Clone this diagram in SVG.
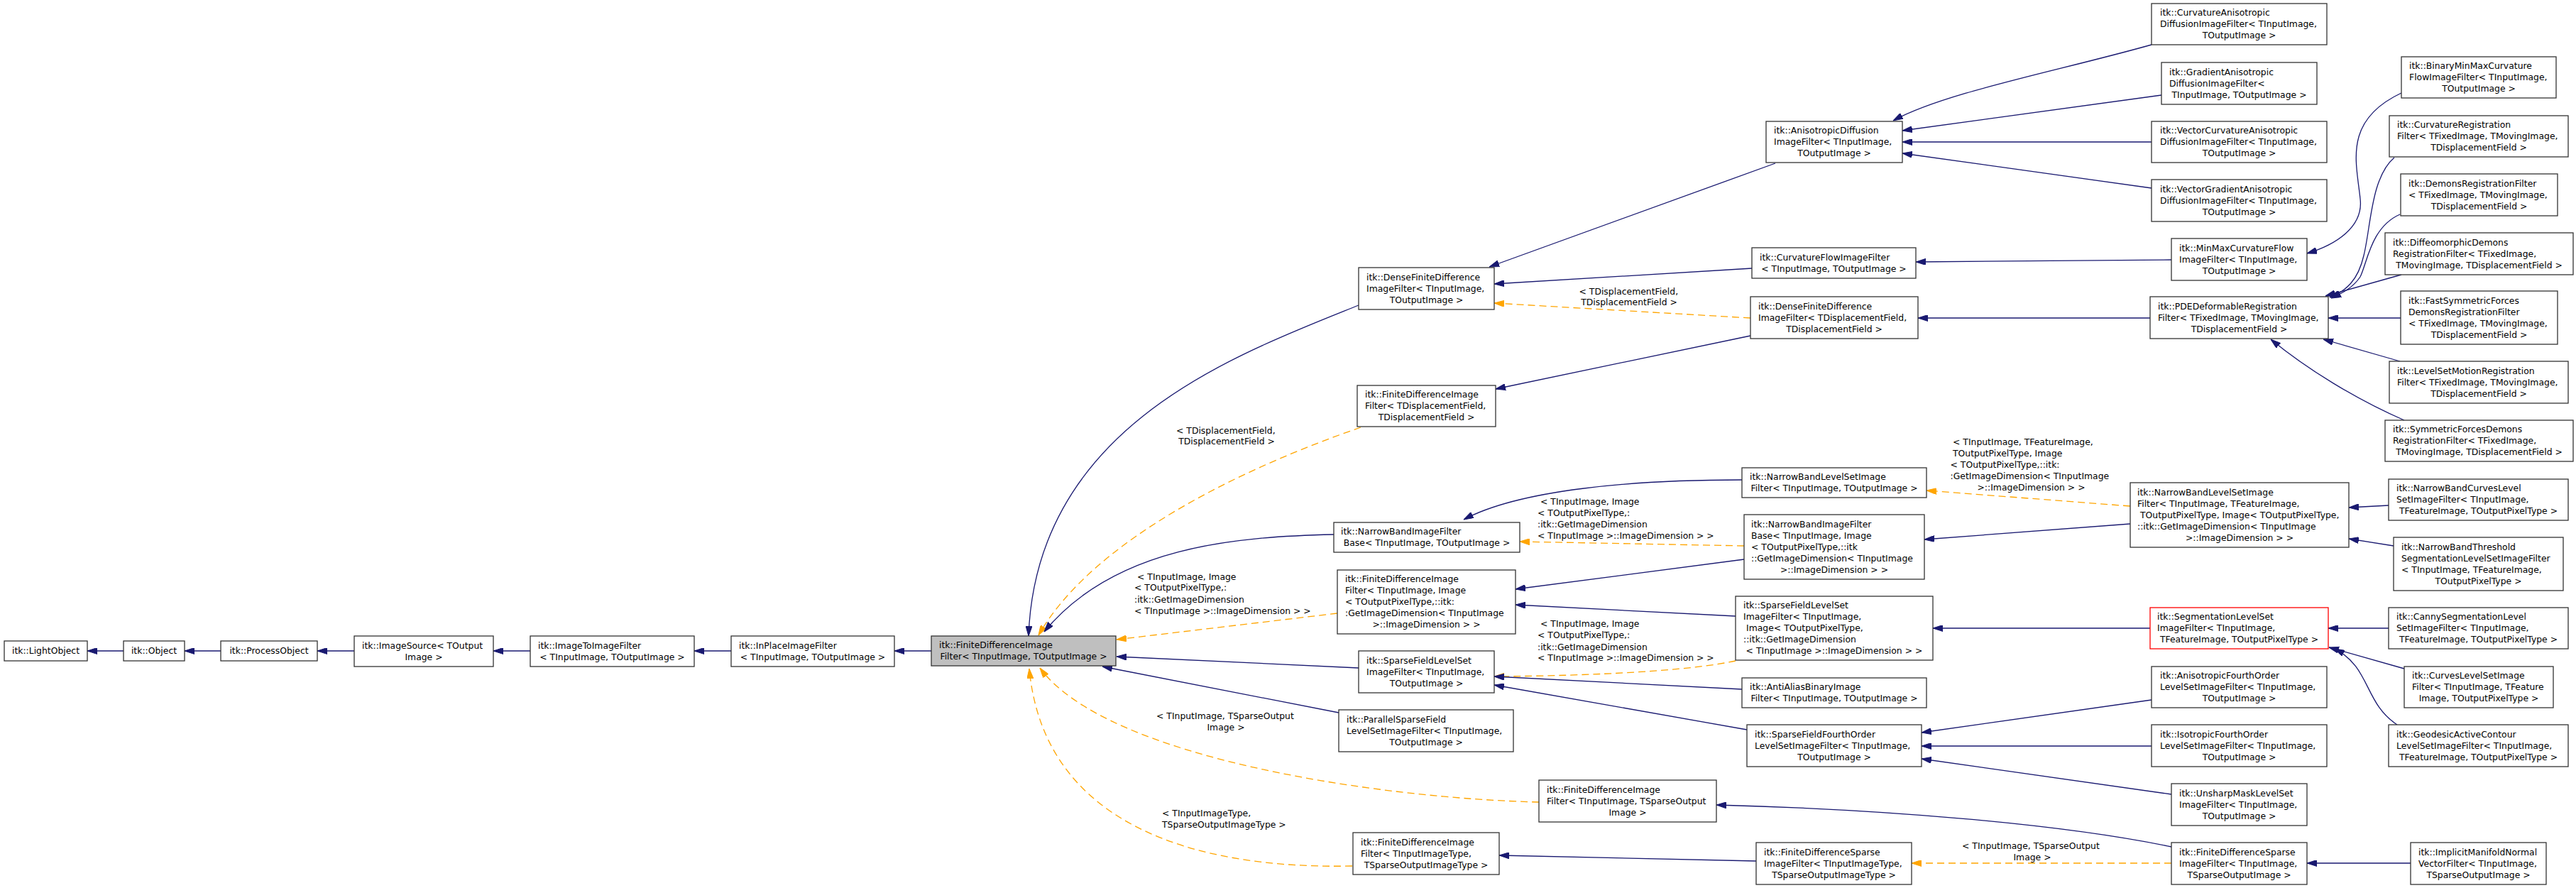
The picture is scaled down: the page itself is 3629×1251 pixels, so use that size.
<svg xmlns="http://www.w3.org/2000/svg" width="3629" height="1251" viewBox="0 0 3629 1251">
<defs>
<style>
rect{fill:#fff;stroke:#333;stroke-width:1.3}
rect.main{fill:#bfbfbf}
rect.trunc{stroke:#ff0000}
text{font-family:"DejaVu Sans",sans-serif;font-size:12.4px;fill:#000}
.c{text-anchor:middle}
.e{fill:none;stroke:#191970;stroke-width:1.3;marker-end:url(#an)}
.d{fill:none;stroke:#ffa500;stroke-width:1.3;stroke-dasharray:10,6;marker-end:url(#ao)}
</style>
<marker id="an" viewBox="0 0 14 9" refX="14" refY="4.5" markerWidth="14" markerHeight="9" markerUnits="userSpaceOnUse" orient="auto"><path d="M0,0 L14,4.5 L0,9 z" fill="#191970" stroke="#191970"/></marker>
<marker id="ao" viewBox="0 0 14 9" refX="14" refY="4.5" markerWidth="14" markerHeight="9" markerUnits="userSpaceOnUse" orient="auto"><path d="M0,0 L14,4.5 L0,9 z" fill="#ffa500" stroke="#ffa500"/></marker>
</defs>
<rect x="0" y="0" width="3629" height="1251" style="fill:#fff;stroke:none"/>

<g id="connectors">
<path class="e" d="M174,917 L123,917"/>
<path class="e" d="M311,917 L260,917"/>
<path class="e" d="M499,917 L447,917"/>
<path class="e" d="M747,917 L695,917"/>
<path class="e" d="M1030,917 L978,917"/>
<path class="e" d="M1312,917 L1260,917"/>
<path class="e" d="M1914,430 C1740,500 1460,600 1449,896"/>
<path class="d" d="M1917,602 C1750,660 1540,760 1463,895"/>
<path class="e" d="M1879,753 C1740,756 1570,770 1471,890"/>
<path class="d" d="M1884,864 L1573,901"/>
<path class="e" d="M1914,941 L1573,925"/>
<path class="e" d="M1886,1004 L1553,939"/>
<path class="d" d="M2168,1130 C1950,1125 1560,1070 1465,941"/>
<path class="d" d="M1905,1220 C1680,1225 1470,1160 1450,942"/>
<path class="e" d="M2501,230 L2098,376"/>
<path class="e" d="M2468,378 L2105,400"/>
<path class="d" d="M2466,448 L2105,427"/>
<path class="e" d="M3029,448 L2702,448"/>
<path class="e" d="M2466,473 L2107,548"/>
<path class="e" d="M2454,676 C2300,676 2140,690 2062,732"/>
<path class="d" d="M3001,713 L2714,691"/>
<path class="e" d="M3001,738 L2711,760"/>
<path class="d" d="M2457,769 L2141,763"/>
<path class="e" d="M2457,788 L2135,830"/>
<path class="e" d="M2445,868 L2135,852"/>
<path class="d" d="M2445,931 C2380,945 2250,952 2105,953"/>
<path class="e" d="M2454,971 L2105,953"/>
<path class="e" d="M2461,1028 L2105,965"/>
<path class="e" d="M3031,986 L2707,1032"/>
<path class="e" d="M3031,1051 L2707,1051"/>
<path class="e" d="M3059,1119 L2707,1069"/>
<path class="e" d="M3059,1193 C2900,1160 2650,1140 2418,1134"/>
<path class="d" d="M3059,1216 L2693,1216"/>
<path class="e" d="M2474,1213 L2112,1205"/>
<path class="e" d="M3396,1216 L3250,1216"/>
<path class="e" d="M3029,885 L2723,885"/>
<path class="e" d="M3365,885 L3280,885"/>
<path class="e" d="M3387,942 L3281,912"/>
<path class="e" d="M3377,1021 C3330,990 3340,940 3289,914"/>
<path class="e" d="M3031,63 C2900,100 2740,130 2667,170"/>
<path class="e" d="M3045,134 L2680,184"/>
<path class="e" d="M3031,200 L2680,200"/>
<path class="e" d="M3031,265 L2680,216"/>
<path class="e" d="M3059,366 L2699,369"/>
<path class="e" d="M3383,131 C3300,170 3320,230 3325,280 C3330,320 3290,345 3250,357"/>
<path class="e" d="M3373,222 C3340,250 3340,320 3330,360 C3322,395 3305,410 3282,419"/>
<path class="e" d="M3381,302 C3340,320 3335,370 3325,390 C3315,405 3300,413 3284,420"/>
<path class="e" d="M3383,387 L3276,417"/>
<path class="e" d="M3382,448 L3280,448"/>
<path class="e" d="M3381,509 L3273,478"/>
<path class="e" d="M3387,592 C3320,563 3250,520 3199,478"/>
<path class="e" d="M3365,712 L3309,715"/>
<path class="e" d="M3372,769 L3309,759"/>
<g id="edge-labels">
<text x="2224.5" y="414.7">&lt; TDisplacementField,</text>
<text class="c" x="2295" y="430">TDisplacementField &gt;</text>
<text x="1657" y="610.7">&lt; TDisplacementField,</text>
<text class="c" x="1728" y="626.3">TDisplacementField &gt;</text>
<text x="1602" y="816.7">&lt; TInputImage, Image</text>
<text x="1598" y="832.3">&lt; TOutputPixelType,:</text>
<text x="1598" y="848.7">:itk::GetImageDimension</text>
<text x="1598" y="864.7">&lt; TInputImage &gt;::ImageDimension &gt; &gt;</text>
<text x="2170" y="711.3">&lt; TInputImage, Image</text>
<text x="2166" y="727.3">&lt; TOutputPixelType,:</text>
<text x="2166" y="743.3">:itk::GetImageDimension</text>
<text x="2166" y="759.3">&lt; TInputImage &gt;::ImageDimension &gt; &gt;</text>
<text x="2170" y="883.3">&lt; TInputImage, Image</text>
<text x="2166" y="899.3">&lt; TOutputPixelType,:</text>
<text x="2166" y="915.7">:itk::GetImageDimension</text>
<text x="2166" y="931.3">&lt; TInputImage &gt;::ImageDimension &gt; &gt;</text>
<text x="2751" y="626.7">&lt; TInputImage, TFeatureImage,</text>
<text x="2751" y="642.7">TOutputPixelType, Image</text>
<text x="2747.5" y="658.7">&lt; TOutputPixelType,::itk:</text>
<text x="2747.5" y="674.7">:GetImageDimension&lt; TInputImage</text>
<text class="c" x="2861.5" y="690.7">&gt;::ImageDimension &gt; &gt;</text>
<text x="1629" y="1012.7">&lt; TInputImage, TSparseOutput</text>
<text class="c" x="1727" y="1028.7">Image &gt;</text>
<text x="1637" y="1150.3">&lt; TInputImageType,</text>
<text x="1637" y="1166.3">TSparseOutputImageType &gt;</text>
<text x="2764" y="1195.7">&lt; TInputImage, TSparseOutput</text>
<text class="c" x="2863" y="1211.7">Image &gt;</text>
</g>
</g>

<g id="LightObject"><rect x="6" y="903" width="117" height="28"/><text class="c" x="64.5" y="921">itk::LightObject</text></g>
<g id="Object"><rect x="174" y="903" width="86" height="28"/><text class="c" x="217" y="921">itk::Object</text></g>
<g id="ProcessObject"><rect x="311" y="903" width="136" height="28"/><text class="c" x="379" y="921">itk::ProcessObject</text></g>
<g id="ImageSource"><rect x="499" y="896" width="196" height="43"/><text x="510" y="913.5">itk::ImageSource&lt; TOutput</text><text class="c" x="597" y="929.5">Image &gt;</text></g>
<g id="ImageToImageFilter"><rect x="747" y="896" width="231" height="43"/><text x="758" y="913.5">itk::ImageToImageFilter</text><text class="c" x="862.5" y="929.5">&lt; TInputImage, TOutputImage &gt;</text></g>
<g id="InPlaceImageFilter"><rect x="1030" y="896" width="230" height="43"/><text x="1041" y="913.5">itk::InPlaceImageFilter</text><text class="c" x="1145" y="929.5">&lt; TInputImage, TOutputImage &gt;</text></g>
<g id="FiniteDifferenceImageFilter"><rect class="main" x="1312" y="896" width="260" height="42"/><text x="1323" y="913">itk::FiniteDifferenceImage</text><text class="c" x="1442" y="929">Filter&lt; TInputImage, TOutputImage &gt;</text></g>

<g id="DenseFD_In"><rect x="1914" y="377" width="191" height="59"/><text x="1925" y="394.5">itk::DenseFiniteDifference</text><text x="1925" y="410.5">ImageFilter&lt; TInputImage,</text><text class="c" x="2009.5" y="426.5">TOutputImage &gt;</text></g>
<g id="FD_Disp"><rect x="1912" y="543" width="195" height="58"/><text x="1923" y="560">itk::FiniteDifferenceImage</text><text x="1923" y="576">Filter&lt; TDisplacementField,</text><text class="c" x="2009.5" y="592">TDisplacementField &gt;</text></g>
<g id="NBIFB_In"><rect x="1879" y="736" width="262" height="42"/><text x="1889" y="753">itk::NarrowBandImageFilter</text><text class="c" x="2010" y="769">Base&lt; TInputImage, TOutputImage &gt;</text></g>
<g id="FD_InImage"><rect x="1884" y="803" width="251" height="90"/><text x="1895" y="820">itk::FiniteDifferenceImage</text><text x="1895" y="836">Filter&lt; TInputImage, Image</text><text x="1895" y="852">&lt; TOutputPixelType,::itk:</text><text x="1895" y="868">:GetImageDimension&lt; TInputImage</text><text class="c" x="2009.5" y="884">&gt;::ImageDimension &gt; &gt;</text></g>
<g id="SFLS_In"><rect x="1914" y="917" width="191" height="59"/><text x="1925" y="934.5">itk::SparseFieldLevelSet</text><text x="1925" y="950.5">ImageFilter&lt; TInputImage,</text><text class="c" x="2009.5" y="966.5">TOutputImage &gt;</text></g>
<g id="ParallelSparseField"><rect x="1886" y="1000" width="246" height="59"/><text x="1897" y="1017.5">itk::ParallelSparseField</text><text x="1897" y="1033.5">LevelSetImageFilter&lt; TInputImage,</text><text class="c" x="2009" y="1049.5">TOutputImage &gt;</text></g>
<g id="FD_InSparse"><rect x="2168" y="1099" width="250" height="59"/><text x="2179" y="1116.5">itk::FiniteDifferenceImage</text><text x="2179" y="1132.5">Filter&lt; TInputImage, TSparseOutput</text><text class="c" x="2293" y="1148.5">Image &gt;</text></g>
<g id="FD_InType"><rect x="1906" y="1173" width="206" height="59"/><text x="1917" y="1190.5">itk::FiniteDifferenceImage</text><text x="1917" y="1206.5">Filter&lt; TInputImageType,</text><text class="c" x="2009" y="1222.5">TSparseOutputImageType &gt;</text></g>

<g id="AnisotropicDiffusion"><rect x="2488" y="171" width="192" height="58"/><text x="2499" y="188">itk::AnisotropicDiffusion</text><text x="2499" y="204">ImageFilter&lt; TInputImage,</text><text class="c" x="2584" y="220">TOutputImage &gt;</text></g>
<g id="CurvatureFlow"><rect x="2468" y="349" width="231" height="43"/><text x="2479" y="366.5">itk::CurvatureFlowImageFilter</text><text class="c" x="2583.5" y="382.5">&lt; TInputImage, TOutputImage &gt;</text></g>
<g id="DenseFD_Disp"><rect x="2466" y="418" width="236" height="59"/><text x="2477" y="435.5">itk::DenseFiniteDifference</text><text x="2477" y="451.5">ImageFilter&lt; TDisplacementField,</text><text class="c" x="2584" y="467.5">TDisplacementField &gt;</text></g>
<g id="NBLS_In"><rect x="2454" y="659" width="260" height="42"/><text x="2465" y="676">itk::NarrowBandLevelSetImage</text><text class="c" x="2584" y="692">Filter&lt; TInputImage, TOutputImage &gt;</text></g>
<g id="NBIFB_Image"><rect x="2457" y="725" width="254" height="91"/><text x="2467" y="742.5">itk::NarrowBandImageFilter</text><text x="2467" y="758.5">Base&lt; TInputImage, Image</text><text x="2467" y="774.5">&lt; TOutputPixelType,::itk</text><text x="2467" y="790.5">::GetImageDimension&lt; TInputImage</text><text class="c" x="2584" y="806.5">&gt;::ImageDimension &gt; &gt;</text></g>
<g id="SFLS_Image"><rect x="2445" y="840" width="278" height="90"/><text x="2456" y="857">itk::SparseFieldLevelSet</text><text x="2456" y="873">ImageFilter&lt; TInputImage,</text><text x="2460" y="889">Image&lt; TOutputPixelType,</text><text x="2456" y="905">::itk::GetImageDimension</text><text class="c" x="2584" y="921">&lt; TInputImage &gt;::ImageDimension &gt; &gt;</text></g>
<g id="AntiAliasBinary"><rect x="2454" y="955" width="260" height="42"/><text x="2465" y="972">itk::AntiAliasBinaryImage</text><text class="c" x="2584" y="988">Filter&lt; TInputImage, TOutputImage &gt;</text></g>
<g id="SFFourthOrder"><rect x="2461" y="1021" width="246" height="59"/><text x="2472" y="1038.5">itk::SparseFieldFourthOrder</text><text x="2472" y="1054.5">LevelSetImageFilter&lt; TInputImage,</text><text class="c" x="2584" y="1070.5">TOutputImage &gt;</text></g>
<g id="FDSparse_Type"><rect x="2474" y="1187" width="219" height="59"/><text x="2485" y="1204.5">itk::FiniteDifferenceSparse</text><text x="2485" y="1220.5">ImageFilter&lt; TInputImageType,</text><text class="c" x="2583.5" y="1236.5">TSparseOutputImageType &gt;</text></g>

<g id="CurvatureAnisotropic"><rect x="3031" y="5" width="247" height="58"/><text x="3043" y="22">itk::CurvatureAnisotropic</text><text x="3043" y="38">DiffusionImageFilter&lt; TInputImage,</text><text class="c" x="3154.5" y="54">TOutputImage &gt;</text></g>
<g id="GradientAnisotropic"><rect x="3045" y="88" width="219" height="59"/><text x="3056" y="105.5">itk::GradientAnisotropic</text><text x="3056" y="121.5">DiffusionImageFilter&lt;</text><text class="c" x="3154.5" y="137.5">TInputImage, TOutputImage &gt;</text></g>
<g id="VectorCurvatureAnisotropic"><rect x="3031" y="171" width="247" height="58"/><text x="3043" y="188">itk::VectorCurvatureAnisotropic</text><text x="3043" y="204">DiffusionImageFilter&lt; TInputImage,</text><text class="c" x="3154.5" y="220">TOutputImage &gt;</text></g>
<g id="VectorGradientAnisotropic"><rect x="3031" y="253" width="247" height="59"/><text x="3043" y="270.5">itk::VectorGradientAnisotropic</text><text x="3043" y="286.5">DiffusionImageFilter&lt; TInputImage,</text><text class="c" x="3154.5" y="302.5">TOutputImage &gt;</text></g>
<g id="MinMaxCurvatureFlow"><rect x="3059" y="336" width="191" height="59"/><text x="3070" y="353.5">itk::MinMaxCurvatureFlow</text><text x="3070" y="369.5">ImageFilter&lt; TInputImage,</text><text class="c" x="3154.5" y="385.5">TOutputImage &gt;</text></g>
<g id="PDEDeformable"><rect x="3029" y="418" width="251" height="59"/><text x="3040" y="435.5">itk::PDEDeformableRegistration</text><text x="3040" y="451.5">Filter&lt; TFixedImage, TMovingImage,</text><text class="c" x="3154.5" y="467.5">TDisplacementField &gt;</text></g>
<g id="BinaryMinMax"><rect x="3383" y="80" width="218" height="58"/><text x="3394" y="97">itk::BinaryMinMaxCurvature</text><text x="3394" y="113">FlowImageFilter&lt; TInputImage,</text><text class="c" x="3492" y="129">TOutputImage &gt;</text></g>
<g id="CurvatureRegistration"><rect x="3366" y="163" width="252" height="58"/><text x="3377" y="180">itk::CurvatureRegistration</text><text x="3377" y="196">Filter&lt; TFixedImage, TMovingImage,</text><text class="c" x="3492" y="212">TDisplacementField &gt;</text></g>
<g id="DemonsRegistration"><rect x="3382" y="245" width="221" height="59"/><text x="3393" y="262.5">itk::DemonsRegistrationFilter</text><text x="3393" y="278.5">&lt; TFixedImage, TMovingImage,</text><text class="c" x="3492.5" y="294.5">TDisplacementField &gt;</text></g>
<g id="DiffeomorphicDemons"><rect x="3360" y="328" width="265" height="59"/><text x="3371" y="345.5">itk::DiffeomorphicDemons</text><text x="3371" y="361.5">RegistrationFilter&lt; TFixedImage,</text><text class="c" x="3492.5" y="377.5">TMovingImage, TDisplacementField &gt;</text></g>
<g id="FastSymmetricForces"><rect x="3382" y="410" width="221" height="75"/><text x="3393" y="427.5">itk::FastSymmetricForces</text><text x="3393" y="443.5">DemonsRegistrationFilter</text><text x="3393" y="459.5">&lt; TFixedImage, TMovingImage,</text><text class="c" x="3492.5" y="475.5">TDisplacementField &gt;</text></g>
<g id="LevelSetMotion"><rect x="3366" y="509" width="252" height="59"/><text x="3377" y="526.5">itk::LevelSetMotionRegistration</text><text x="3377" y="542.5">Filter&lt; TFixedImage, TMovingImage,</text><text class="c" x="3492" y="558.5">TDisplacementField &gt;</text></g>
<g id="SymmetricForcesDemons"><rect x="3360" y="592" width="265" height="58"/><text x="3371" y="609">itk::SymmetricForcesDemons</text><text x="3371" y="625">RegistrationFilter&lt; TFixedImage,</text><text class="c" x="3492.5" y="641">TMovingImage, TDisplacementField &gt;</text></g>
<g id="NBLS_Feature"><rect x="3001" y="680" width="308" height="91"/><text x="3011" y="697.5">itk::NarrowBandLevelSetImage</text><text x="3011" y="713.5">Filter&lt; TInputImage, TFeatureImage,</text><text x="3015" y="729.5">TOutputPixelType, Image&lt; TOutputPixelType,</text><text x="3011" y="745.5">::itk::GetImageDimension&lt; TInputImage</text><text class="c" x="3155" y="761.5">&gt;::ImageDimension &gt; &gt;</text></g>
<g id="NarrowBandCurves"><rect x="3365" y="675" width="253" height="58"/><text x="3376" y="692">itk::NarrowBandCurvesLevel</text><text x="3376" y="708">SetImageFilter&lt; TInputImage,</text><text class="c" x="3491.5" y="724">TFeatureImage, TOutputPixelType &gt;</text></g>
<g id="NarrowBandThreshold"><rect x="3372" y="757" width="239" height="75"/><text x="3383" y="774.5">itk::NarrowBandThreshold</text><text x="3383" y="790.5">SegmentationLevelSetImageFilter</text><text x="3383" y="806.5">&lt; TInputImage, TFeatureImage,</text><text class="c" x="3491.5" y="822.5">TOutputPixelType &gt;</text></g>
<g id="SegmentationLevelSet"><rect class="trunc" x="3029" y="856" width="251" height="58"/><text x="3039" y="873">itk::SegmentationLevelSet</text><text x="3039" y="889">ImageFilter&lt; TInputImage,</text><text class="c" x="3154.5" y="905">TFeatureImage, TOutputPixelType &gt;</text></g>
<g id="CannySegmentation"><rect x="3365" y="856" width="253" height="58"/><text x="3376" y="873">itk::CannySegmentationLevel</text><text x="3376" y="889">SetImageFilter&lt; TInputImage,</text><text class="c" x="3491.5" y="905">TFeatureImage, TOutputPixelType &gt;</text></g>
<g id="CurvesLevelSet"><rect x="3387" y="939" width="210" height="58"/><text x="3398" y="956">itk::CurvesLevelSetImage</text><text x="3398" y="972">Filter&lt; TInputImage, TFeature</text><text class="c" x="3492" y="988">Image, TOutputPixelType &gt;</text></g>
<g id="GeodesicActiveContour"><rect x="3365" y="1021" width="253" height="59"/><text x="3376" y="1038.5">itk::GeodesicActiveContour</text><text x="3376" y="1054.5">LevelSetImageFilter&lt; TInputImage,</text><text class="c" x="3491.5" y="1070.5">TFeatureImage, TOutputPixelType &gt;</text></g>
<g id="AnisotropicFourthOrder"><rect x="3031" y="939" width="247" height="58"/><text x="3043" y="956">itk::AnisotropicFourthOrder</text><text x="3043" y="972">LevelSetImageFilter&lt; TInputImage,</text><text class="c" x="3154.5" y="988">TOutputImage &gt;</text></g>
<g id="IsotropicFourthOrder"><rect x="3031" y="1021" width="247" height="59"/><text x="3043" y="1038.5">itk::IsotropicFourthOrder</text><text x="3043" y="1054.5">LevelSetImageFilter&lt; TInputImage,</text><text class="c" x="3154.5" y="1070.5">TOutputImage &gt;</text></g>
<g id="UnsharpMask"><rect x="3059" y="1104" width="191" height="59"/><text x="3070" y="1121.5">itk::UnsharpMaskLevelSet</text><text x="3070" y="1137.5">ImageFilter&lt; TInputImage,</text><text class="c" x="3154.5" y="1153.5">TOutputImage &gt;</text></g>
<g id="FDSparse_In"><rect x="3059" y="1187" width="191" height="59"/><text x="3070" y="1204.5">itk::FiniteDifferenceSparse</text><text x="3070" y="1220.5">ImageFilter&lt; TInputImage,</text><text class="c" x="3154.5" y="1236.5">TSparseOutputImage &gt;</text></g>
<g id="ImplicitManifold"><rect x="3396" y="1187" width="191" height="59"/><text x="3407" y="1204.5">itk::ImplicitManifoldNormal</text><text x="3407" y="1220.5">VectorFilter&lt; TInputImage,</text><text class="c" x="3491.5" y="1236.5">TSparseOutputImage &gt;</text></g>
</svg>
